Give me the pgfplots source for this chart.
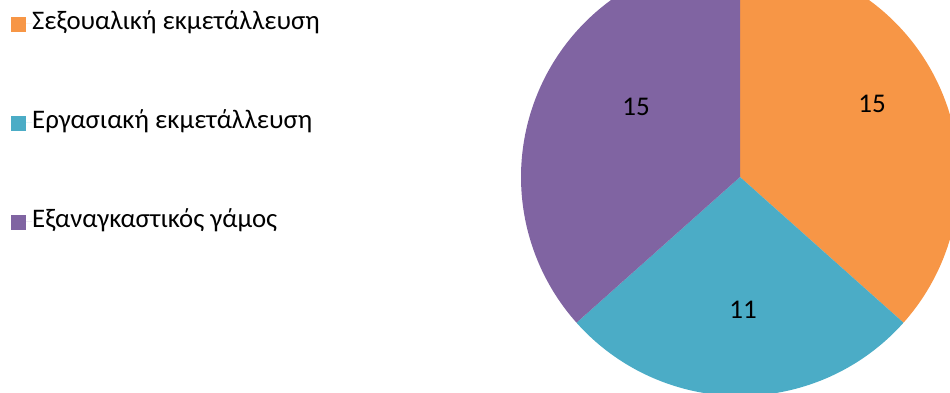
\documentclass[border=0pt]{standalone}
\usepackage{pgfplots}
\usepackage{pgfplotstable}
\pgfplotsset{compat=1.18}
\usepackage{fontspec}
\setmainfont{Carlito}
\definecolor{sexcol}{HTML}{F79646}
\definecolor{workcol}{HTML}{4BACC6}
\definecolor{marcol}{HTML}{8064A2}
\pgfplotstableread{
idx value lx ly
0 15 132 73
1 11 3 -133
2 15 -104 70
}\piedata
\pgfplotstablegetelem{0}{value}\of\piedata \let\vA\pgfplotsretval
\pgfplotstablegetelem{1}{value}\of\piedata \let\vB\pgfplotsretval
\pgfplotstablegetelem{2}{value}\of\piedata \let\vC\pgfplotsretval
\pgfmathsetmacro{\tot}{\vA+\vB+\vC}
\pgfmathsetmacro{\aA}{90}
\pgfmathsetmacro{\aB}{90-360*\vA/\tot}
\pgfmathsetmacro{\aC}{\aB-360*\vB/\tot}
\pgfmathsetmacro{\aD}{\aC-360*\vC/\tot}
\begin{document}
\begin{tikzpicture}
\begin{axis}[
  scale only axis,
  width=950pt, height=393pt,
  xmin=-740, xmax=210, ymin=-216, ymax=177,
  hide axis,
  clip=true,
  legend style={at={(axis cs:-729,54)}, anchor=west, draw=none, fill=none,
    inner sep=0pt, row sep=75pt, font=\fontsize{26.8}{26.8}\selectfont,
    column sep=0pt,
    nodes={inner sep=0pt, text height=18pt, text depth=6pt}},
  legend cell align=left,
  legend image code/.code={\fill[#1,draw=none] (0pt,-8pt) rectangle (15pt,7pt); \path (0pt,0pt) -- (21pt,0pt);},
]
\addplot[fill=sexcol, draw=none, domain=\aB:\aA, samples=120, variable=\t] ({219*cos(\t)},{219*sin(\t)}) -- (axis cs:0,0) -- cycle;
\addlegendentry{Σεξουαλική εκμετάλλευση}
\addplot[fill=workcol, draw=none, domain=\aC:\aB, samples=120, variable=\t] ({219*cos(\t)},{219*sin(\t)}) -- (axis cs:0,0) -- cycle;
\addlegendentry{Εργασιακή εκμετάλλευση}
\addplot[fill=marcol, draw=none, domain=\aD:\aC, samples=120, variable=\t] ({219*cos(\t)},{219*sin(\t)}) -- (axis cs:0,0) -- cycle;
\addlegendentry{Εξαναγκαστικός γάμος}
\addplot[only marks, mark=none, nodes near coords, point meta=explicit symbolic,
  nodes near coords style={anchor=center, font=\fontsize{27}{27}\selectfont, text=black}]
  table[x=lx, y=ly, meta=value] {\piedata};
\end{axis}
\pgfresetboundingbox
\path[use as bounding box] (current axis.south west) rectangle (current axis.north east);
\end{tikzpicture}
\end{document}
